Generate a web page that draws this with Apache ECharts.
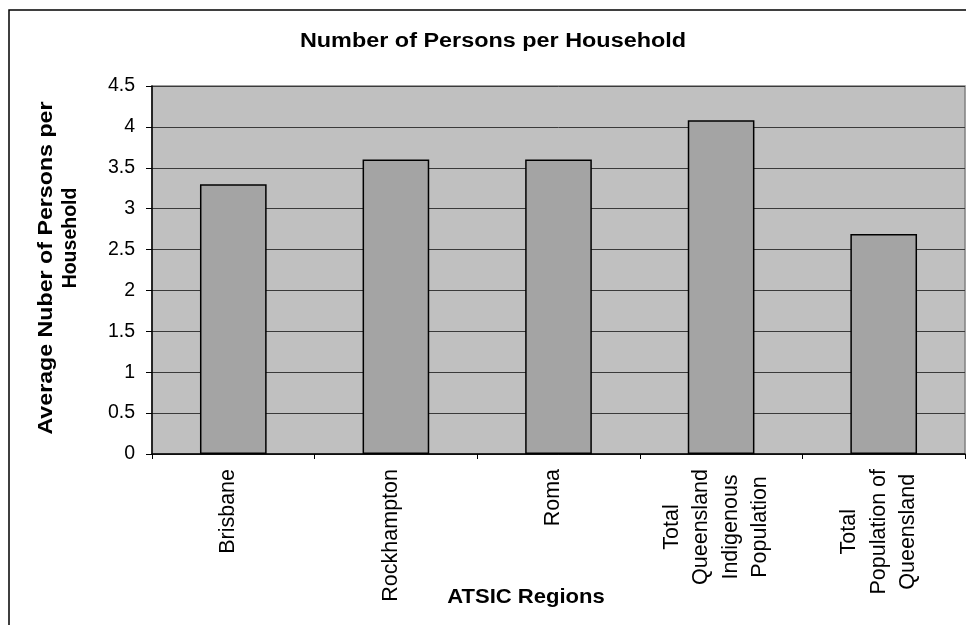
<!DOCTYPE html>
<html>
<head>
<meta charset="utf-8">
<script src="https://cdn.jsdelivr.net/npm/echarts@6/dist/echarts.min.js"></script>
<style>
  html, body { margin: 0; padding: 0; background: #ffffff; }
  #chart { width: 966px; height: 625px; }
</style>
</head>
<body>
<div id="chart"></div>
<script>
// ATSIC regions and the average number of persons per household
const regions = [
  'Brisbane',
  'Rockhampton',
  'Roma',
  'Total\nQueensland\nIndigenous\nPopulation',
  'Total\nPopulation of\nQueensland'
];
const personsPerHousehold = [3.3, 3.6, 3.6, 4.08, 2.69];

const chartTitle = 'Number of Persons per Household';
const xTitle = 'ATSIC Regions';
const yTitleLines = ['Average Nuber of Persons per', 'Household'];

const FONT = '"Liberation Sans", Arial, Helvetica, sans-serif';

const chart = echarts.init(document.getElementById('chart'));

chart.setOption({
  backgroundColor: '#ffffff',
  animation: false,
  grid: {
    left: 152,
    right: 1,
    top: 86,
    bottom: 171,
    show: true,
    backgroundColor: '#c0c0c0',
    borderColor: '#808080',
    borderWidth: 1.5
  },
  xAxis: {
    type: 'category',
    data: regions,
    axisLine: { show: true, lineStyle: { color: '#000', width: 1.5 } },
    axisTick: { show: true, length: 5, lineStyle: { color: '#000' } },
    axisLabel: {
      interval: 0,
      rotate: 90,
      margin: 15,
      color: '#000',
      fontFamily: FONT,
      fontSize: 21.5,
      lineHeight: 29.5,
      padding: [0, 0, 10, 0],
      formatter: function (value) {
        return value.split('\n').map(function (line) { return '{c|' + line + '}'; }).join('\n');
      },
      rich: {
        c: { align: 'center', fontFamily: FONT, fontSize: 21.5, lineHeight: 29.5, color: '#000' }
      }
    },
    splitLine: { show: false }
  },
  yAxis: {
    type: 'value',
    min: 0,
    max: 4.5,
    interval: 0.5,
    axisLine: { show: true, lineStyle: { color: '#000', width: 1.5 } },
    axisTick: { show: true, length: 6, lineStyle: { color: '#000' } },
    axisLabel: { color: '#000', fontFamily: FONT, fontSize: 19.5, margin: 17 },
    splitLine: { show: true, lineStyle: { color: '#3a3a3a', width: 1 } }
  },
  series: [{
    type: 'bar',
    data: personsPerHousehold,
    barCategoryGap: '59%',
    itemStyle: { color: '#a4a4a4', borderColor: '#000', borderWidth: 1.5 }
  }],
  graphic: [
    {
      type: 'rect',
      shape: { x: 9, y: 10, width: 1000, height: 700 },
      style: { fill: 'none', stroke: '#000', lineWidth: 1.5 },
      silent: true
    },
    {
      // chart title
      type: 'text',
      x: 493, y: 41, scaleX: 1.17,
      style: {
        text: chartTitle, fontFamily: FONT, fontSize: 20, fontWeight: 'bold',
        fill: '#000', align: 'center', verticalAlign: 'middle'
      }
    },
    {
      // value axis title, first line
      type: 'text',
      x: 46, y: 268, rotation: Math.PI / 2, scaleX: 1.16,
      style: {
        text: yTitleLines[0], fontFamily: FONT, fontSize: 20, fontWeight: 'bold',
        fill: '#000', align: 'center', verticalAlign: 'middle'
      }
    },
    {
      // value axis title, second line
      type: 'text',
      x: 71, y: 238, rotation: Math.PI / 2,
      style: {
        text: yTitleLines[1], fontFamily: FONT, fontSize: 19.5, fontWeight: 'bold',
        fill: '#000', align: 'center', verticalAlign: 'middle'
      }
    },
    {
      // category axis title
      type: 'text',
      x: 526, y: 597, scaleX: 1.05,
      style: {
        text: xTitle, fontFamily: FONT, fontSize: 21, fontWeight: 'bold',
        fill: '#000', align: 'center', verticalAlign: 'middle'
      }
    }
  ]
});
</script>
</body>
</html>
